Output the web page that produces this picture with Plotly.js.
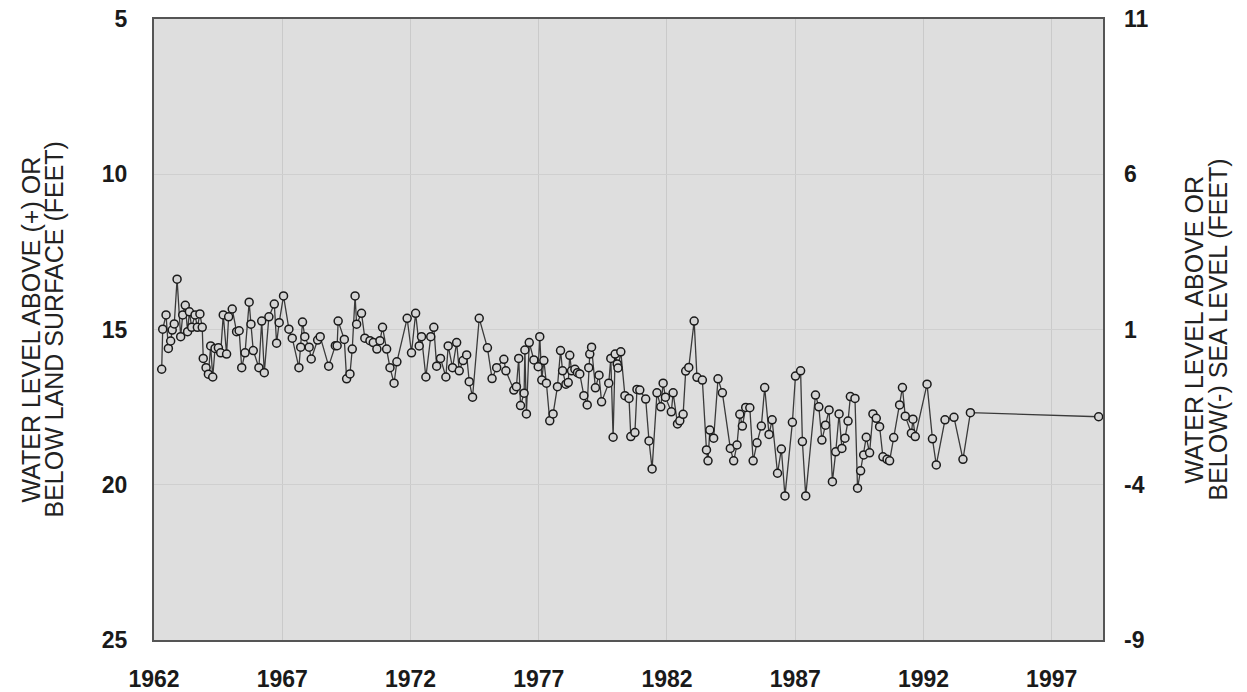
<!DOCTYPE html>
<html>
<head>
<meta charset="utf-8">
<script src="https://cdn.plot.ly/plotly-3.0.1.min.js"></script>
<style>html,body{margin:0;padding:0;background:#fff;}#chart{width:1247px;height:692px;}</style>
</head>
<body>
<div id="chart"></div>
<script>
// Decimal year of each measurement
const years = [
1962.30,1962.34,1962.47,1962.56,1962.65,1962.71,1962.79,1962.90,1963.04,1963.12,
1963.22,1963.31,1963.38,1963.47,1963.60,1963.69,1963.79,1963.88,1963.92,1964.03,
1964.12,1964.21,1964.29,1964.38,1964.51,1964.60,1964.70,1964.83,1964.91,1965.05,
1965.22,1965.32,1965.42,1965.55,1965.71,1965.78,1965.87,1966.09,1966.20,1966.30,
1966.48,1966.69,1966.78,1966.88,1967.05,1967.26,1967.39,1967.65,1967.72,1967.79,
1967.88,1968.05,1968.13,1968.38,1968.48,1968.81,1969.07,1969.14,1969.18,1969.42,
1969.51,1969.64,1969.73,1969.84,1969.90,1970.09,1970.22,1970.42,1970.55,1970.69,
1970.81,1970.91,1971.07,1971.20,1971.36,1971.47,1971.87,1972.04,1972.20,1972.34,
1972.43,1972.60,1972.79,1972.91,1973.02,1973.17,1973.38,1973.47,1973.64,1973.80,
1973.90,1974.05,1974.19,1974.29,1974.42,1974.68,1975.00,1975.18,1975.36,1975.64,
1975.72,1976.03,1976.13,1976.22,1976.29,1976.43,1976.46,1976.52,1976.63,1976.81,
1976.98,1977.04,1977.12,1977.20,1977.30,1977.43,1977.56,1977.73,1977.85,1977.93,
1978.06,1978.15,1978.21,1978.28,1978.41,1978.51,1978.60,1978.76,1978.89,1978.95,
1978.99,1979.06,1979.21,1979.35,1979.45,1979.73,1979.81,1979.90,1979.98,1980.06,
1980.09,1980.20,1980.36,1980.52,1980.59,1980.75,1980.83,1980.94,1981.17,1981.30,
1981.42,1981.61,1981.76,1981.85,1981.94,1982.17,1982.24,1982.41,1982.50,1982.63,
1982.73,1982.85,1983.06,1983.17,1983.38,1983.54,1983.60,1983.67,1983.82,1983.99,
1984.16,1984.47,1984.60,1984.73,1984.84,1984.94,1985.07,1985.23,1985.36,1985.51,
1985.68,1985.81,1985.98,1986.10,1986.31,1986.46,1986.60,1986.89,1987.01,1987.21,
1987.28,1987.41,1987.79,1987.92,1988.04,1988.18,1988.32,1988.45,1988.58,1988.71,
1988.82,1988.94,1989.06,1989.15,1989.33,1989.43,1989.55,1989.67,1989.77,1989.90,
1990.03,1990.16,1990.29,1990.42,1990.58,1990.68,1990.84,1991.07,1991.18,1991.29,
1991.53,1991.59,1991.68,1992.14,1992.35,1992.50,1992.84,1993.19,1993.54,1993.83,
1998.83
];
// Water level below land surface (feet)
const depthBelowLand = [
16.28,14.99,14.53,15.61,15.37,15.02,14.82,13.38,15.23,14.53,
14.22,15.07,14.43,14.93,14.53,14.93,14.50,14.93,15.93,16.23,
16.44,15.53,16.53,15.61,15.59,15.75,14.53,15.79,14.59,14.34,
15.07,15.04,16.23,15.75,14.12,14.83,15.68,16.23,14.73,16.39,
14.59,14.18,15.44,14.78,13.92,14.99,15.28,16.23,15.57,14.76,
15.23,15.57,15.95,15.34,15.23,16.18,15.52,15.52,14.73,15.32,
16.59,16.43,15.63,13.92,14.83,14.48,15.28,15.36,15.42,15.63,
15.36,14.93,15.63,16.23,16.73,16.04,14.64,15.75,14.48,15.53,
15.23,16.53,15.23,14.93,16.18,15.93,16.53,15.53,16.23,15.42,
16.33,16.00,15.82,16.68,17.18,14.64,15.59,16.58,16.23,15.96,
16.33,16.95,16.84,15.93,17.45,17.05,15.66,17.72,15.42,15.98,
16.20,15.23,16.63,16.00,16.73,17.94,17.72,16.84,15.68,16.33,
16.76,16.71,15.83,16.33,16.28,16.39,16.43,17.13,17.43,16.23,
15.79,15.57,16.88,16.47,17.33,16.73,15.93,18.47,15.79,16.11,
16.24,15.72,17.13,17.22,18.45,18.32,16.93,16.95,17.24,18.59,
19.49,17.04,17.49,16.73,17.18,17.65,17.04,18.04,17.94,17.73,
16.34,16.22,14.73,16.54,16.63,18.88,19.23,18.24,18.50,16.59,
17.04,18.83,19.23,18.72,17.73,18.11,17.51,17.52,19.23,18.65,
18.11,16.87,18.38,17.91,19.63,18.85,20.36,17.99,16.50,16.33,
18.61,20.36,17.11,17.49,18.56,18.08,17.59,19.90,18.94,17.72,
18.83,18.50,17.95,17.16,17.22,20.11,19.55,19.04,18.47,18.97,
17.72,17.86,18.13,19.10,19.18,19.23,18.48,17.43,16.87,17.79,
18.34,17.89,18.45,16.76,18.52,19.36,17.91,17.83,19.18,17.68,
17.81
];
const xTicks = [1962, 1967, 1972, 1977, 1982, 1987, 1992, 1997];
const leftTicks = [5, 10, 15, 20, 25];
const rightTicks = [11, 6, 1, -4, -9];
const leftTitle = ['WATER LEVEL ABOVE (+) OR', 'BELOW LAND SURFACE (FEET)'];
const rightTitle = ['WATER LEVEL ABOVE OR', 'BELOW(-) SEA LEVEL (FEET)'];

const tickFont = {family: 'Liberation Sans, Arial, sans-serif', size: 23, color: '#1a1a1a', weight: 'bold'};
const titleFont = {family: 'Liberation Sans, Arial, sans-serif', size: 25, color: '#222'};

const traces = [
  {
    x: years, y: depthBelowLand, type: 'scatter', mode: 'lines+markers',
    line: {color: '#3a3a3a', width: 1.3},
    marker: {symbol: 'circle', size: 8, color: '#d4d4d4', line: {color: '#1a1a1a', width: 1.5}},
    hoverinfo: 'x+y', showlegend: false, cliponaxis: false
  },
  {
    x: [xTicks[0]], y: [rightTicks[2]], yaxis: 'y2', type: 'scatter', mode: 'markers',
    marker: {opacity: 0}, hoverinfo: 'skip', showlegend: false
  }
];

function titleAnn(text, xpaper, shift) {
  return {text: text, xref: 'paper', yref: 'paper', x: xpaper, y: 0.5, xshift: shift,
          xanchor: 'center', yanchor: 'middle', textangle: -90, showarrow: false, font: titleFont};
}

const layout = {
  width: 1247, height: 692,
  margin: {l: 154, r: 144, t: 19, b: 52},
  paper_bgcolor: '#ffffff',
  plot_bgcolor: '#dedede',
  xaxis: {
    range: [1962, 1999], tickvals: xTicks, ticktext: xTicks.map(String),
    showgrid: true, gridcolor: '#cacaca', gridwidth: 1, zeroline: false,
    showline: true, linecolor: '#555', linewidth: 2, mirror: true,
    ticks: '', tickfont: tickFont, ticklabelstandoff: 17
  },
  yaxis: {
    range: [25, 5], tickvals: leftTicks, ticktext: leftTicks.map(String),
    showgrid: true, gridcolor: '#cfcfcf', gridwidth: 1, zeroline: false,
    showline: true, linecolor: '#555', linewidth: 2, mirror: true,
    ticks: '', tickfont: tickFont, ticklabelstandoff: 20
  },
  yaxis2: {
    overlaying: 'y', side: 'right', range: [-9, 11],
    tickvals: rightTicks, ticktext: rightTicks.map(String),
    showgrid: false, zeroline: false, showline: false,
    ticks: '', tickfont: tickFont, ticklabelstandoff: 20
  },
  annotations: [
    titleAnn(leftTitle[0], 0, -124),
    titleAnn(leftTitle[1], 0, -101),
    titleAnn(rightTitle[0], 1, 1193 - 1103),
    titleAnn(rightTitle[1], 1, 1217 - 1103)
  ]
};

Plotly.newPlot('chart', traces, layout, {displayModeBar: false, staticPlot: true});
</script>
</body>
</html>
